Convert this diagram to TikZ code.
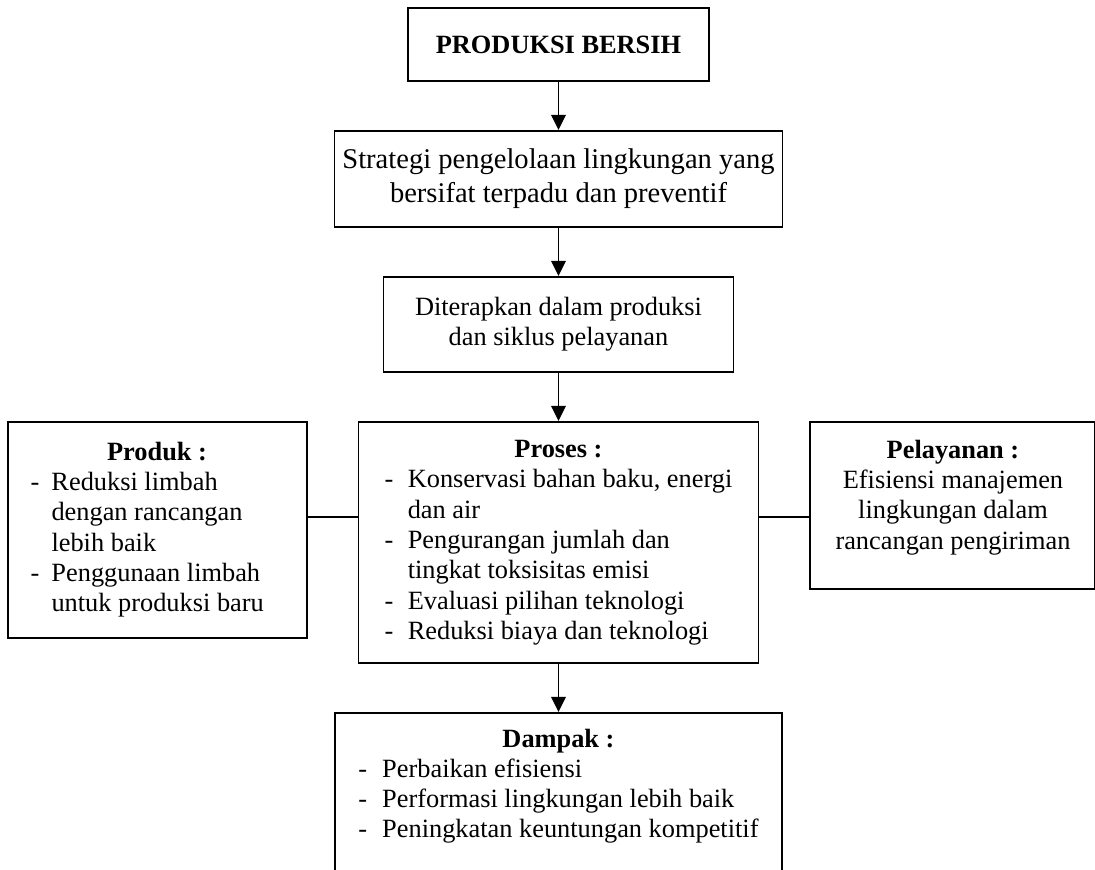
\documentclass[tikz,border=0pt]{standalone}
\usepackage{fontspec}
\setmainfont{Liberation Serif}
\usepackage{array}
\usetikzlibrary{positioning}
\usetikzlibrary{arrows.meta}
\tikzstyle{kotak} = [rectangle, draw=black, line width=0.9pt, text centered, inner sep=0pt, font=\fontsize{12}{13.8}\selectfont]
\tikzstyle{arrow} = [line width=0.9pt,-{Triangle[length=0.24cm,width=0.23cm]}]
\tikzstyle{garis} = [line width=0.9pt]

\begin{document}
\begin{tikzpicture}[node distance=0.768cm]
        \useasboundingbox (-8.936,0.112) rectangle (8.584,-13.792);

        % Judul di atas
        \node[kotak, anchor=north, minimum width=4.816cm, minimum height=1.168cm] (judul) at (0,0) {\textbf{PRODUKSI BERSIH}};

        % Rantai tengah
        \node[kotak, below=of judul, minimum width=7.168cm, minimum height=1.536cm, align=center, font=\fontsize{13}{15.5}\selectfont] (strategi) {Strategi pengelolaan lingkungan yang\\bersifat terpadu dan preventif};
        \node[kotak, below=of strategi, minimum width=5.6cm, minimum height=1.52cm, align=center] (terapan) {Diterapkan dalam produksi\\dan siklus pelayanan};
        \node[kotak, below=of terapan, minimum width=6.4cm, minimum height=3.856cm] (proses) {%
            \begin{tabular}{@{}p{0.37cm}@{}l@{}}
            \multicolumn{2}{c}{\textbf{Proses :}}\\
            - & Konservasi bahan baku, energi\\
              & dan air\\
            - & Pengurangan jumlah dan\\
              & tingkat toksisitas emisi\\
            - & Evaluasi pilihan teknologi\\
            - & Reduksi biaya dan teknologi
            \end{tabular}};

        % Kotak kiri dan kanan
        \node[kotak, left=0.8cm of proses.north west, anchor=north east, minimum width=4.784cm, minimum height=3.456cm] (produk) {%
            \begin{tabular}{@{}p{0.336cm}@{}p{3.712cm}@{}}
            \multicolumn{2}{c}{\textbf{Produk :}}\\
            - & Reduksi limbah\\
              & dengan rancangan\\
              & lebih baik\\
            - & Penggunaan limbah\\
              & untuk produksi baru
            \end{tabular}};
        \node[kotak, right=0.8cm of proses.north east, anchor=north west, minimum width=4.56cm, minimum height=2.672cm, align=center] (pelayanan) {\textbf{Pelayanan :}\\Efisiensi manajemen\\lingkungan dalam\\rancangan pengiriman\rule[-0.35cm]{0pt}{0pt}};

        % Dampak di bawah
        \node[kotak, below=of proses, minimum width=7.152cm, minimum height=2.608cm] (dampak) {%
            \begin{tabular}{@{}p{0.38cm}@{}l@{}}
            \multicolumn{2}{c}{\textbf{Dampak :}}\\
            - & Perbaikan efisiensi\\
            - & Performasi lingkungan lebih baik\\
            - & Peningkatan keuntungan kompetitif\rule[-0.4cm]{0pt}{0pt}
            \end{tabular}};

        % Panah
        \draw[arrow] (judul) -- (strategi);
        \draw[arrow] (strategi) -- (terapan);
        \draw[arrow] (terapan) -- (proses);
        \draw[arrow] (proses) -- (dampak);

        % Garis penghubung
        \coordinate (hubkiri) at ([yshift=-1.536cm]proses.north west);
        \coordinate (hubkanan) at ([yshift=-1.536cm]proses.north east);
        \draw[garis] (produk.east |- hubkiri) -- (hubkiri);
        \draw[garis] (hubkanan) -- (pelayanan.west |- hubkanan);

    \end{tikzpicture}
\end{document}
